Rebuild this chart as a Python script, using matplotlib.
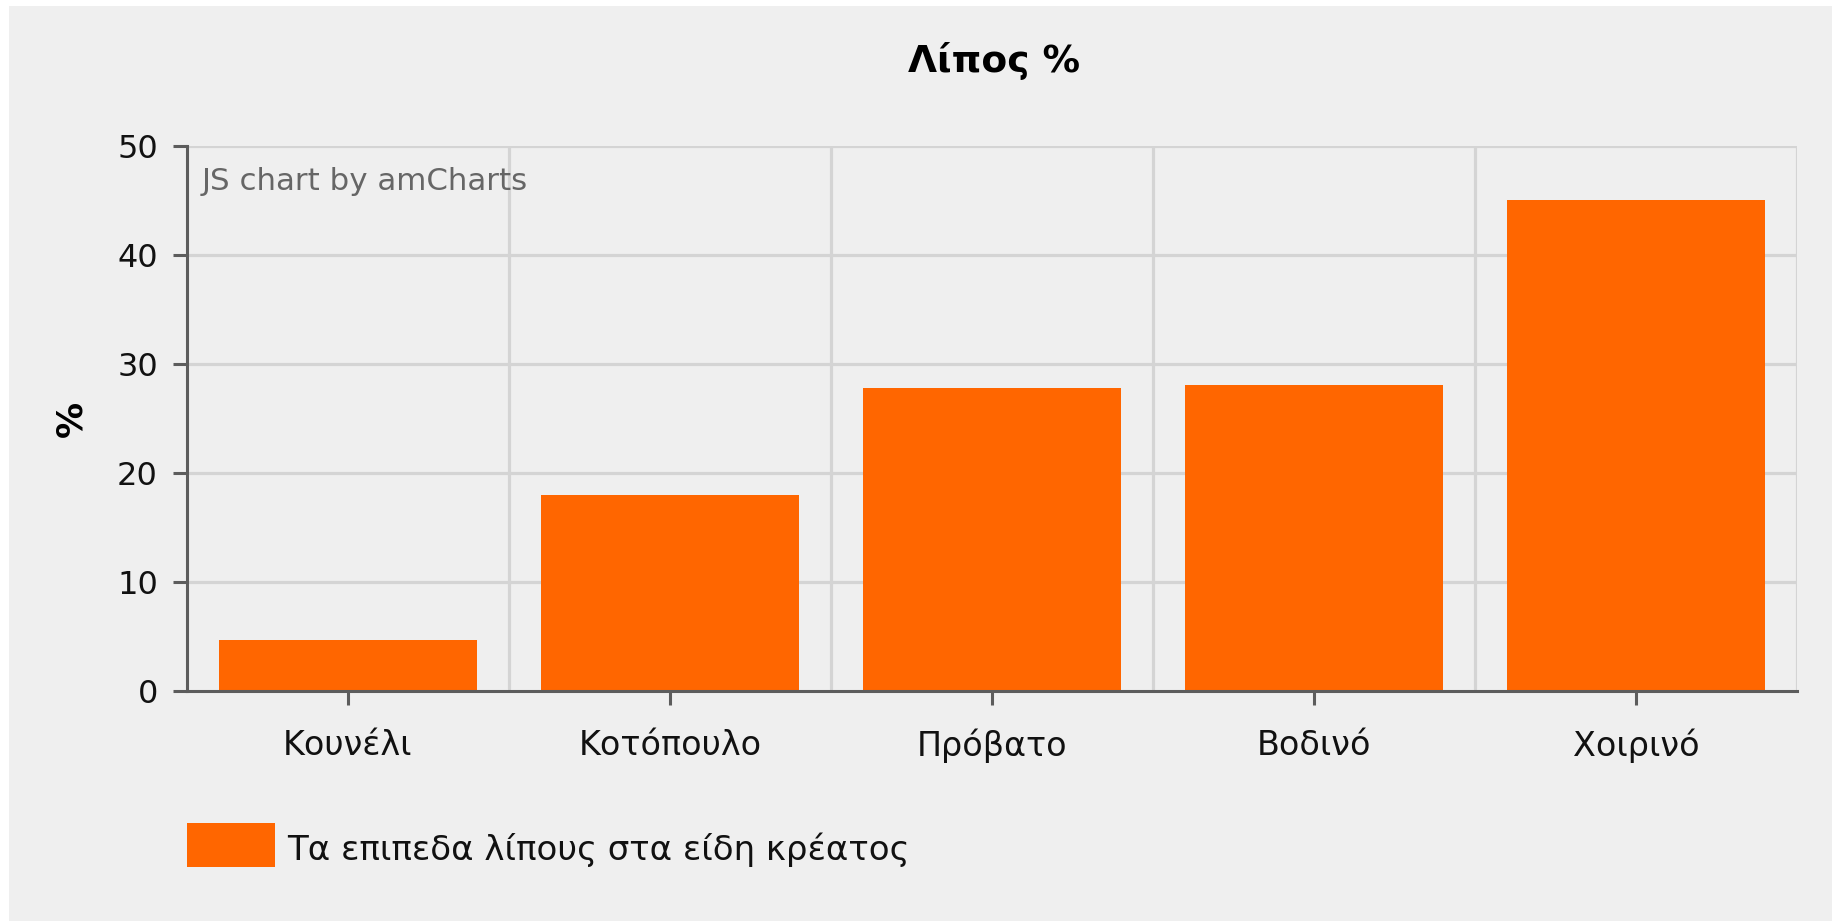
import numpy as np
import matplotlib.pyplot as plt
from matplotlib.patches import Rectangle

categories = ["Κουνέλι", "Κοτόπουλο", "Πρόβατο", "Βοδινό", "Χοιρινό"]
fat_values = [4.7, 18.0, 27.8, 28.1, 45.0]
series_name = "Τα επιπεδα λίπους στα είδη κρέατος"
y_ticks = [0, 10, 20, 30, 40, 50]

bar_colour = "#ff6600"
bg_colour = "#efefef"
axis_colour = "#5c5c5c"
grid_colour = "#d4d4d4"

plt.rcParams['font.family'] = ['DejaVu Sans']

fig = plt.figure(figsize=(18.33, 9.21), dpi=100, facecolor="white")
# grey panel, with a thin white strip on top and left
fig.patches.append(Rectangle((9 / 1833, 0), 1, 1 - 6 / 921, transform=fig.transFigure,
                             facecolor=bg_colour, edgecolor="none", zorder=-10))

ax = fig.add_axes([187 / 1833, 1 - 691 / 921, 1610 / 1833, 545 / 921])
ax.set_facecolor("none")

x = np.arange(len(categories))
ax.bar(x, fat_values, width=0.8, color=bar_colour, zorder=3)

ax.set_xlim(-0.5, len(categories) - 0.5)
ax.set_ylim(0, 50)
ax.set_yticks(y_ticks)
ax.set_xticks(x)
ax.set_xticklabels(categories)

# grid lines: horizontal at y ticks, vertical at category borders
for yv in y_ticks[1:]:
    ax.axhline(yv, color=grid_colour, lw=2.3, zorder=1)
for xv in np.arange(len(categories)) + 0.5:
    ax.axvline(xv, color=grid_colour, lw=2.3, zorder=1)

for side in ["top", "right"]:
    ax.spines[side].set_visible(False)
for side in ["left", "bottom"]:
    ax.spines[side].set_color(axis_colour)
    ax.spines[side].set_linewidth(2.2)
    ax.spines[side].set_zorder(4)

ax.tick_params(axis="y", length=10, width=2.2, color=axis_colour, pad=11,
               labelsize=23, labelcolor="#111111")
ax.tick_params(axis="x", length=10, width=2.2, color=axis_colour, pad=17,
               labelsize=24, labelcolor="#111111")

ax.set_ylabel("%", fontsize=26, fontweight="bold")
ax.yaxis.set_label_coords(-0.061, 0.5)

fig.text(994 / 1833, 1 - 61 / 921, "Λίπος %", fontsize=27, fontweight="bold",
         ha="center", va="center")

ax.text(0.009, 0.935, "JS chart by amCharts", transform=ax.transAxes,
        fontsize=22.2, color="#666666", ha="left", va="center")

# legend drawn by hand to match the amCharts look
fig.patches.append(Rectangle((187 / 1833, 1 - 867 / 921), 88 / 1833, 44 / 921,
                             transform=fig.transFigure, facecolor=bar_colour,
                             edgecolor="none"))
fig.text(287 / 1833, 1 - 850 / 921, series_name, fontsize=24.5, color="#111111",
         ha="left", va="center")

fig.savefig("out.png", dpi=100, facecolor=fig.get_facecolor())
